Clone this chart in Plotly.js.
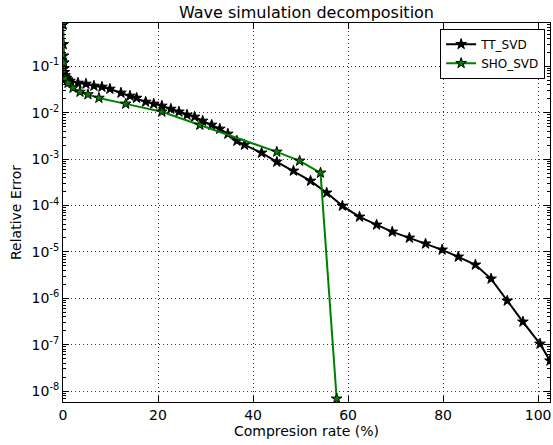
<!DOCTYPE html>
<html>
<head>
<meta charset="utf-8">
<script src="https://cdn.plot.ly/plotly-3.0.1.min.js"></script>
<style>html,body{margin:0;padding:0;background:#fff;}#chart{width:553px;height:445px;}</style>
</head>
<body>
<div id="chart"></div>
<script>
// TT_SVD series
const ttX = [0, 0.05, 0.1, 0.15, 0.2, 0.3, 0.42, 0.7, 1.0, 1.47, 3.15, 4.83, 6.51, 8.19, 9.87, 12.2, 14.1, 15.5, 17.4, 19.1, 20.8, 22.7, 24.4, 26.1, 27.7, 29.4, 31.3, 33.0, 34.7, 36.6, 38.2, 41.8, 45.0, 48.5, 52.1, 55.5, 58.8, 62.4, 66.0, 69.3, 72.9, 76.3, 79.8, 83.2, 86.8, 90.1, 93.5, 96.8, 100.4, 102.5];
const ttY = [0.8, 0.3, 0.17, 0.12, 0.09, 0.075, 0.064, 0.056, 0.052, 0.0487, 0.0441, 0.042, 0.038, 0.0362, 0.0327, 0.0269, 0.0231, 0.0209, 0.0172, 0.0156, 0.0141, 0.0121, 0.0105, 0.0090, 0.00816, 0.00669, 0.00548, 0.0045, 0.00351, 0.00248, 0.00203, 0.00137, 0.000875, 0.00056, 0.00034, 0.000188, 9.86e-5, 5.71e-5, 3.84e-5, 2.71e-5, 2.01e-5, 1.50e-5, 1.11e-5, 7.84e-6, 5.27e-6, 2.63e-6, 8.83e-7, 3.11e-7, 1.04e-7, 4.5e-8];
// SHO_SVD series
const shoX = [0, 0.15, 0.42, 1.05, 2.1, 3.57, 5.25, 7.56, 13.2, 20.8, 28.8, 45.0, 49.8, 54.2, 57.6];
const shoY = [0.8, 0.12, 0.0565, 0.044, 0.0344, 0.0282, 0.0249, 0.0209, 0.0156, 0.0105, 0.00548, 0.00144, 0.00092, 0.000507, 6.8e-9];
// Axis ticks
const xTicks = [0, 20, 40, 60, 80, 100];
const yTickVals = [1e-8, 1e-7, 1e-6, 1e-5, 1e-4, 1e-3, 1e-2, 1e-1];
const yTickText = ['10<sup>-8</sup>', '10<sup>-7</sup>', '10<sup>-6</sup>', '10<sup>-5</sup>', '10<sup>-4</sup>', '10<sup>-3</sup>', '10<sup>-2</sup>', '10<sup>-1</sup>'];

// minor tick positions for the log axis (2..9 of each decade)
const yMinor = [];
for (let e = -9; e <= 0; e++) for (let m = 2; m <= 9; m++) yMinor.push(m * Math.pow(10, e));

const font = 'DejaVu Sans, sans-serif';
const traces = [
  {x: ttX, y: ttY, name: 'TT_SVD', type: 'scatter', mode: 'lines+markers',
   line: {color: '#000000', width: 2},
   marker: {symbol: 'star', size: 8, color: '#000000', line: {color: '#000000', width: 1}}},
  {x: shoX, y: shoY, name: 'SHO_SVD', type: 'scatter', mode: 'lines+markers',
   line: {color: '#008000', width: 2},
   marker: {symbol: 'star', size: 8, color: '#008000', line: {color: '#000000', width: 1}}}
];
const axisCommon = {
  showline: true, linecolor: '#000', linewidth: 1, mirror: 'allticks',
  ticks: 'inside', ticklen: 6, tickcolor: '#000', tickwidth: 1,
  showgrid: true, gridcolor: '#333', griddash: '1px,3px', gridwidth: 1,
  zeroline: false, tickfont: {family: font, size: 14, color: '#000'}
};
const layout = {
  width: 553, height: 445,
  margin: {l: 63, r: 3, t: 23, b: 43},
  paper_bgcolor: '#fff', plot_bgcolor: '#fff',
  font: {family: font, color: '#000'},
  title: {text: 'Wave simulation decomposition', font: {family: font, size: 16, color: '#000'},
          xref: 'paper', x: 0.5, xanchor: 'center', yref: 'container', y: 0.973, yanchor: 'middle'},
  xaxis: Object.assign({}, axisCommon, {
    range: [0, 102.5], tickvals: xTicks, ticktext: xTicks.map(String),
    title: {text: 'Compresion rate (%)', font: {family: font, size: 14, color: '#000'}, standoff: 4}
  }),
  yaxis: Object.assign({}, axisCommon, {
    type: 'log', range: [Math.log10(5.8e-9), Math.log10(0.865)],
    tickvals: yTickVals, ticktext: yTickText,
    minor: {tickmode: 'array', tickvals: yMinor, ticks: 'inside', ticklen: 3, tickcolor: '#000', showgrid: false},
    title: {text: 'Relative Error', font: {family: font, size: 14, color: '#000'}, standoff: 6}
  }),
  legend: {x: 0.99, xanchor: 'right', y: 0.985, yanchor: 'top',
           bgcolor: '#fff', bordercolor: '#000', borderwidth: 1, tracegroupgap: 0,
           itemwidth: 30, font: {family: font, size: 12, color: '#000'}},
  showlegend: true
};
Plotly.newPlot('chart', traces, layout, {displayModeBar: false, staticPlot: true});
</script>
</body>
</html>
